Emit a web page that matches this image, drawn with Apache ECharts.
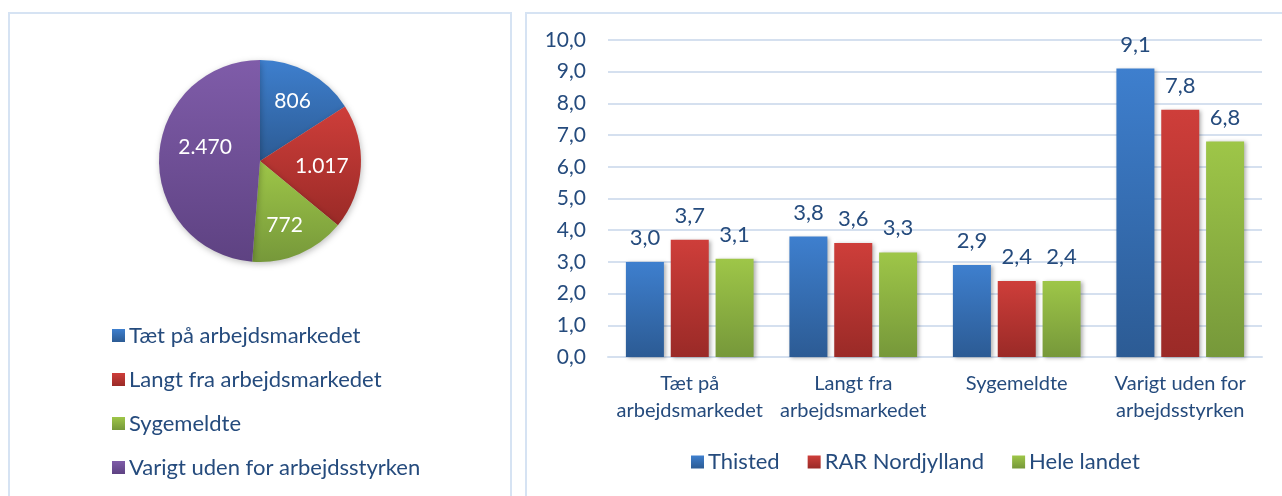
<!DOCTYPE html>
<html>
<head>
<meta charset="utf-8">
<script src="https://cdn.jsdelivr.net/npm/echarts@6/dist/echarts.min.js"></script>
<style>
    html, body { margin: 0; padding: 0; background: #fff; }
    #chart { width: 1282px; height: 496px; }
</style>
</head>
<body>
<div id="chart"></div>
<script>
    // data
    const pieNames = ['Tæt på arbejdsmarkedet', 'Langt fra arbejdsmarkedet', 'Sygemeldte', 'Varigt uden for arbejdsstyrken'];
    const pieValues = [806, 1017, 772, 2470];

    const categories = ['Tæt på\narbejdsmarkedet', 'Langt fra\narbejdsmarkedet', 'Sygemeldte', 'Varigt uden for\narbejdsstyrken'];
    const seriesNames = ['Thisted', 'RAR Nordjylland', 'Hele landet'];
    const thisted = [3.0, 3.8, 2.9, 9.1];
    const rarNordjylland = [3.7, 3.6, 2.4, 7.8];
    const heleLandet = [3.1, 3.3, 2.4, 6.8];

    const textColor = '#254b7d';
    const fontFamily = 'Lato, "Noto Sans", sans-serif';

    function grad(top, bottom) {
        return {
            type: 'linear', x: 0, y: 0, x2: 0, y2: 1,
            colorStops: [{ offset: 0, color: top }, { offset: 1, color: bottom }]
        };
    }
    const blue = grad('#3e7fce', '#2c5b94');
    const red = grad('#ce3e3a', '#9a2a27');
    const green = grad('#9ec648', '#76983a');
    const purple = grad('#7f5ca9', '#5e4282');
    const pieColors = [blue, red, green, purple];
    const barColors = [blue, red, green];
    // small nudges so the slice labels sit where Excel put them
    const pieLabelNudge = [[0, 0], [-6, 1], [-2, 2], [13, -11]];

    const fmt = v => v.toFixed(1).replace('.', ',');
    const fmtInt = v => v >= 1000 ? Math.floor(v / 1000) + '.' + String(v % 1000).padStart(3, '0') : String(v);

    const pieData = pieNames.map((n, i) => ({ name: n, value: pieValues[i], itemStyle: { color: pieColors[i] } }));
    const barValues = [thisted, rarNordjylland, heleLandet];

    const chart = echarts.init(document.getElementById('chart'));
    const option = {
        animation: false,
        textStyle: { fontFamily: fontFamily },
        graphic: [
            { type: 'rect', shape: { x: 9, y: 13, width: 502, height: 500 }, style: { fill: 'none', stroke: '#d6e3f3', lineWidth: 2 }, silent: true },
            { type: 'rect', shape: { x: 526, y: 13, width: 800, height: 500 }, style: { fill: 'none', stroke: '#d6e3f3', lineWidth: 2 }, silent: true }
        ],
        legend: [
            {
                data: pieNames,
                orient: 'vertical',
                left: 107,
                top: 318,
                icon: 'rect',
                itemWidth: 13,
                itemHeight: 13,
                itemGap: 19,
                textStyle: { color: textColor, fontSize: 22, lineHeight: 25, padding: [0, 0, 0, -1] }
            },
            {
                data: seriesNames,
                left: 686,
                top: 446,
                icon: 'rect',
                itemWidth: 13,
                itemHeight: 13,
                itemGap: 28,
                textStyle: { color: textColor, fontSize: 22, padding: [0, 0, 0, -1] }
            }
        ],
        grid: { left: 608, right: 20, top: 40, bottom: 139 },
        xAxis: {
            type: 'category',
            data: categories,
            axisLine: { lineStyle: { color: '#d5e0ef', width: 2 } },
            axisTick: { show: false },
            axisLabel: { color: textColor, fontSize: 20, lineHeight: 27, margin: 13, interval: 0 }
        },
        yAxis: {
            type: 'value',
            min: 0,
            max: 10,
            interval: 1,
            axisLine: { show: false },
            axisTick: { show: false },
            splitLine: { lineStyle: { color: '#d5e0ef', width: 2 } },
            axisLabel: { color: textColor, fontSize: 21, margin: 22, formatter: fmt }
        },
        series: [
            {
                type: 'pie',
                center: [260, 161],
                radius: [0, 101],
                data: pieData,
                label: { show: false },
                labelLine: { show: false },
                itemStyle: { shadowBlur: 6, shadowColor: 'rgba(0,0,0,0.25)', shadowOffsetX: 1, shadowOffsetY: 2 }
            },
            {
                // transparent overlay only to carry the slice labels a bit further out
                type: 'pie',
                center: [260, 161],
                radius: [0, 130],
                silent: true,
                data: pieData.map((d, i) => ({ name: d.name, value: d.value, label: { offset: pieLabelNudge[i] } })),
                itemStyle: { color: 'rgba(0,0,0,0)' },
                labelLine: { show: false },
                label: {
                    show: true,
                    position: 'inside',
                    color: '#fff',
                    fontSize: 21,
                    formatter: p => fmtInt(p.value)
                }
            },
            ...seriesNames.map((name, i) => ({
                name: name,
                type: 'bar',
                data: barValues[i],
                barWidth: 38,
                barGap: '18%',
                itemStyle: { color: barColors[i], shadowBlur: 4, shadowColor: 'rgba(0,0,0,0.3)', shadowOffsetX: 2, shadowOffsetY: 1 },
                label: {
                    show: true,
                    position: 'top',
                    distance: 13,
                    color: textColor,
                    fontSize: 22,
                    formatter: p => fmt(p.value)
                }
            }))
        ]
    };
    chart.setOption(option);
</script>
</body>
</html>
